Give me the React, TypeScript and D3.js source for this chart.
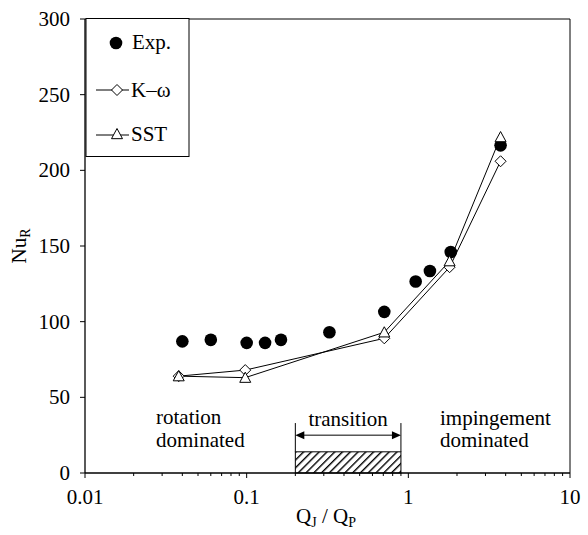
import React from "react";
import * as d3 from "d3";

// Experimental Nusselt numbers
const expQ = [0.04, 0.06, 0.1, 0.13, 0.163, 0.325, 0.71, 1.11, 1.36, 1.83, 3.72];
const expNu = [87, 88, 86, 86, 88, 93, 106.5, 126.5, 133.5, 146, 216.5];

// Simulations (k-omega and SST) at common flow-rate ratios
const modelQ = [0.038, 0.098, 0.71, 1.8, 3.72];
const kwNu = [64, 68, 89, 136, 206];
const sstNu = [64, 63, 93, 140, 222];

// Axis ticks
const xTicks = [0.01, 0.1, 1, 10];
const xTickLabels = ["0.01", "0.1", "1", "10"];
const yTicks = [0, 50, 100, 150, 200, 250, 300];

// Transition band (flow-rate ratio range) and its bracket heights in Nu units
const transitionRange = [0.2, 0.9];
const hatchTop = 14;
const arrowLevel = 25;
const bracketTop = 33;

const W = 588;
const H = 535;
const left = 85;
const right = 570;
const top = 19;
const bottom = 473;
const FONT = "Liberation Serif, DejaVu Serif, Times New Roman, serif";
const txt: React.CSSProperties = { fontFamily: FONT };

export default function App() {
  const x = d3.scaleLog().domain([0.01, 10]).range([left, right]);
  const y = d3.scaleLinear().domain([0, 300]).range([bottom, top]);

  const line = d3
    .line<[number, number]>()
    .x((d) => x(d[0]))
    .y((d) => y(d[1]));

  const kwPts = modelQ.map((q, i) => [q, kwNu[i]] as [number, number]);
  const sstPts = modelQ.map((q, i) => [q, sstNu[i]] as [number, number]);

  const minor: number[] = [];
  for (let e = -2; e < 1; e++) {
    for (let m = 2; m <= 9; m++) minor.push(m * Math.pow(10, e));
  }

  const diamond = (cx: number, cy: number, r = 5.5) =>
    `M${cx},${cy - r}L${cx + r},${cy}L${cx},${cy + r}L${cx - r},${cy}Z`;
  const triangle = (cx: number, cy: number, s = 5.5) =>
    `M${cx},${cy - s}L${cx + s},${cy + s * 0.85}L${cx - s},${cy + s * 0.85}Z`;

  const tx0 = x(transitionRange[0]);
  const tx1 = x(transitionRange[1]);

  return (
    <svg
      width={W}
      height={H}
      style={{ position: "absolute", left: 0, top: 0, background: "#fff", fontFamily: FONT }}
    >
      <defs>
        <pattern
          id="hatch"
          width="5.5"
          height="5.5"
          patternUnits="userSpaceOnUse"
          patternTransform="rotate(45)"
        >
          <line x1="0" y1="0" x2="0" y2="5.5" stroke="#000" strokeWidth="2.8" />
        </pattern>
      </defs>

      {/* plot frame */}
      <line x1={left} y1={top} x2={right} y2={top} stroke="#000" strokeWidth={1} />
      <line x1={right} y1={top} x2={right} y2={bottom} stroke="#000" strokeWidth={1} />
      <line x1={left} y1={top} x2={left} y2={bottom} stroke="#000" strokeWidth={1.3} />
      <line x1={left} y1={bottom} x2={right} y2={bottom} stroke="#000" strokeWidth={1.3} />

      {/* y axis ticks */}
      {yTicks.map((t) => (
        <g key={"y" + t}>
          <line x1={left - 5} x2={left} y1={y(t)} y2={y(t)} stroke="#000" />
          <text x={left - 15} y={y(t) + 7} fontSize={21} textAnchor="end" style={txt}>
            {t}
          </text>
        </g>
      ))}

      {/* x axis ticks */}
      {xTicks.map((t, i) => (
        <g key={"x" + t}>
          <line x1={x(t)} x2={x(t)} y1={bottom} y2={bottom + 5} stroke="#000" />
          <text x={x(t)} y={504} fontSize={21} textAnchor="middle" style={txt}>
            {xTickLabels[i]}
          </text>
        </g>
      ))}
      {minor.map((t) => (
        <line key={"m" + t} x1={x(t)} x2={x(t)} y1={bottom} y2={bottom + 3} stroke="#000" />
      ))}

      {/* axis titles */}
      <text x={326} y={523} fontSize={21} textAnchor="middle" style={txt}>
        Q
        <tspan fontSize={14} dy={4}>J</tspan>
        <tspan dy={-4}>{" / Q"}</tspan>
        <tspan fontSize={14} dy={4}>P</tspan>
      </text>
      <text
        transform={`translate(26,${(top + bottom) / 2}) rotate(-90)`}
        fontSize={21}
        textAnchor="middle"
        style={txt}
      >
        Nu
        <tspan fontSize={14} dy={4}>R</tspan>
      </text>

      {/* transition band */}
      <rect
        x={tx0}
        y={y(hatchTop)}
        width={tx1 - tx0}
        height={y(0) - y(hatchTop)}
        fill="url(#hatch)"
        stroke="#000"
        strokeWidth={1}
      />
      <line x1={tx0} x2={tx0} y1={y(bracketTop)} y2={y(hatchTop)} stroke="#000" />
      <line x1={tx1} x2={tx1} y1={y(bracketTop)} y2={y(hatchTop)} stroke="#000" />
      <line x1={tx0 + 6} x2={tx1 - 6} y1={y(arrowLevel)} y2={y(arrowLevel)} stroke="#000" />
      <path d={`M${tx0},${y(arrowLevel)}l9,-4l0,8Z`} fill="#000" />
      <path d={`M${tx1},${y(arrowLevel)}l-9,-4l0,8Z`} fill="#000" />
      <text x={(tx0 + tx1) / 2} y={426} fontSize={21} textAnchor="middle" style={txt}>
        transition
      </text>

      {/* regime labels */}
      <text x={156} y={424} fontSize={21} style={txt}>rotation</text>
      <text x={156} y={447} fontSize={21} style={txt}>dominated</text>
      <text x={440} y={425} fontSize={21} style={txt}>impingement</text>
      <text x={440} y={447} fontSize={21} style={txt}>dominated</text>

      {/* simulation lines */}
      <path d={line(kwPts) || ""} fill="none" stroke="#000" strokeWidth={1} />
      <path d={line(sstPts) || ""} fill="none" stroke="#000" strokeWidth={1} />

      {/* experimental points */}
      {expQ.map((q, i) => (
        <circle key={"e" + i} cx={x(q)} cy={y(expNu[i])} r={6.3} fill="#000" />
      ))}

      {/* simulation markers */}
      {kwPts.map((p, i) => (
        <path key={"k" + i} d={diamond(x(p[0]), y(p[1]))} fill="#fff" stroke="#000" strokeWidth={1} />
      ))}
      {sstPts.map((p, i) => (
        <path key={"s" + i} d={triangle(x(p[0]), y(p[1]))} fill="#fff" stroke="#000" strokeWidth={1} />
      ))}

      {/* legend */}
      <rect x={86} y={18.5} width={103} height={138} fill="#fff" stroke="#000" strokeWidth={1} />
      <circle cx={116} cy={43} r={6.3} fill="#000" />
      <text x={132} y={49} fontSize={21} style={txt}>Exp.</text>
      <line x1={96} x2={129} y1={90} y2={90} stroke="#000" />
      <path d={diamond(117, 90)} fill="#fff" stroke="#000" />
      <text x={131} y={97} fontSize={21} style={txt}>K–ω</text>
      <line x1={96} x2={129} y1={135} y2={135} stroke="#000" />
      <path d={triangle(117, 134)} fill="#fff" stroke="#000" />
      <text x={131} y={141} fontSize={21} style={txt}>SST</text>
    </svg>
  );
}
